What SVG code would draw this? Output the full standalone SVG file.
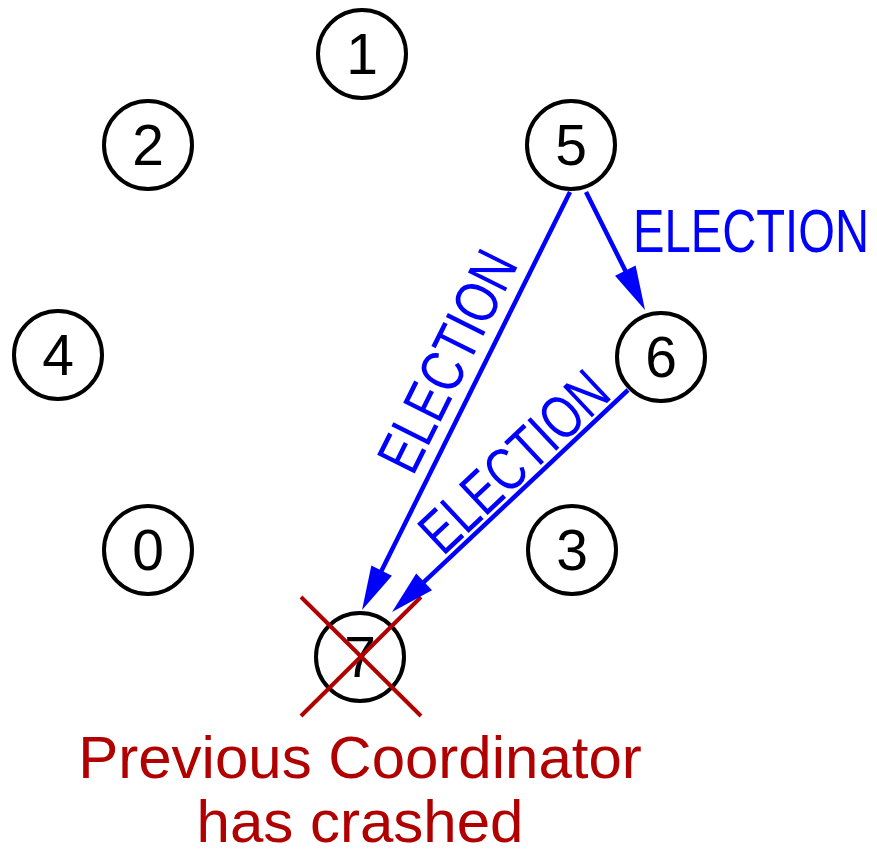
<svg xmlns="http://www.w3.org/2000/svg" width="877" height="851" viewBox="0 0 877 851">
  <style>
    .node circle { fill: #ffffff; stroke: #000000; stroke-width: 4; }
    .node text { font-family: "Liberation Sans", Arial, sans-serif; font-size: 57px; fill: #000000; text-anchor: middle; }
    .msg { stroke: #0000ff; stroke-width: 4.5; fill: none; marker-end: url(#head); }
    .lbl { font-family: "Liberation Sans", Arial, sans-serif; font-size: 61px; fill: #0000ff; }
    .cross { stroke: #b00000; stroke-width: 4; }
    .note { font-family: "Liberation Sans", Arial, sans-serif; font-size: 60px; fill: #b00000; text-anchor: middle; }
  </style>
  <defs>
    <marker id="head" markerUnits="userSpaceOnUse" markerWidth="44" markerHeight="23" refX="14" refY="11.5" orient="auto" overflow="visible">
      <path d="M0,0 L44,11.5 L0,23 Z" fill="#0000ff"/>
    </marker>
  </defs>
  <rect width="877" height="851" fill="#ffffff"/>

  <!-- processes -->
  <g id="n1" class="node"><circle cx="362" cy="54" r="44"/><text x="362" y="74">1</text></g>
  <g id="n2" class="node"><circle cx="148" cy="145" r="44"/><text x="148" y="165">2</text></g>
  <g id="n5" class="node"><circle cx="571" cy="145" r="44"/><text x="571" y="165">5</text></g>
  <g id="n4" class="node"><circle cx="58" cy="355" r="44"/><text x="58" y="375">4</text></g>
  <g id="n6" class="node"><circle cx="661" cy="357" r="44"/><text x="661" y="377">6</text></g>
  <g id="n0" class="node"><circle cx="148" cy="550" r="44"/><text x="148" y="570">0</text></g>
  <g id="n3" class="node"><circle cx="572" cy="550" r="44"/><text x="572" y="570">3</text></g>
  <g id="n7" class="node">
    <circle cx="360" cy="657" r="44"/><text x="360" y="677">7</text>
    <line class="cross" x1="301" y1="597" x2="421" y2="716"/>
    <line class="cross" x1="301" y1="716" x2="421" y2="597"/>
  </g>

  <!-- election messages -->
  <g id="connectors">
    <line class="msg" x1="570" y1="192" x2="375.4" y2="583.1"/>
    <line class="msg" x1="628" y1="390" x2="413.9" y2="591.4"/>
    <line class="msg" x1="586" y1="192" x2="631.6" y2="283.2"/>
    <text class="lbl" x="633" y="252" textLength="236" lengthAdjust="spacingAndGlyphs">ELECTION</text>
    <text class="lbl" transform="translate(413,477) rotate(-63.5)" textLength="238" lengthAdjust="spacingAndGlyphs">ELECTION</text>
    <text class="lbl" transform="translate(443,557) rotate(-43.2)" textLength="234" lengthAdjust="spacingAndGlyphs">ELECTION</text>
  </g>

  <text class="note" x="360" y="778">Previous Coordinator</text>
  <text class="note" x="360" y="842">has crashed</text>
</svg>
